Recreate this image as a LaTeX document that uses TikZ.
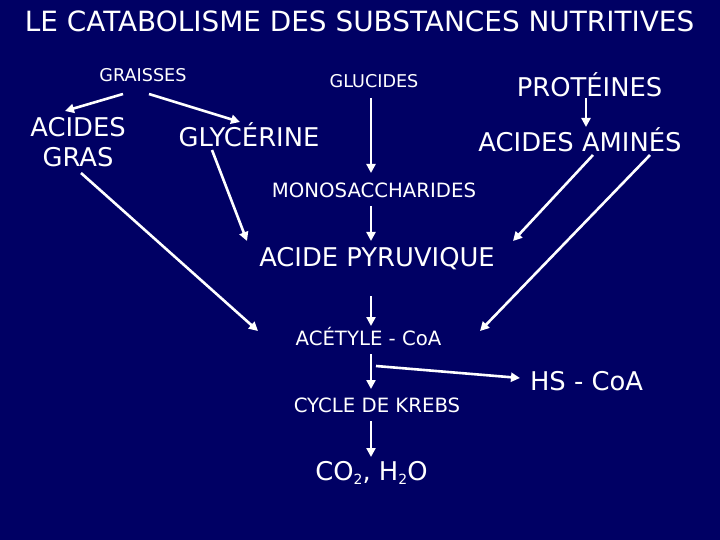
\documentclass[tikz,border=0pt]{standalone}
\usepackage{fontspec}
\setmainfont{DejaVu Sans}
\usetikzlibrary{arrows.meta}
\definecolor{navy}{RGB}{0,0,100}
\newcommand{\mysub}[1]{\raisebox{-4.5pt}{\fontsize{14}{16}\selectfont #1}}
\tikzset{
  big/.style={text=white,font=\fontsize{25.8}{31}\selectfont,inner sep=0pt,anchor=base},
  mid/.style={text=white,font=\fontsize{19.7}{24}\selectfont,inner sep=0pt,anchor=base},
  small/.style={text=white,font=\fontsize{17.6}{21}\selectfont,inner sep=0pt,anchor=base},
  titlestyle/.style={text=white,font=\fontsize{27.9}{33}\selectfont,inner sep=0pt,anchor=base},
  arr/.style={draw=white,line width=2.6pt,-{Triangle[length=9pt,width=9pt]}}
}
\begin{document}
\begin{tikzpicture}[x=1pt,y=-1pt]
\fill[navy] (0,0) rectangle (720,540);
\useasboundingbox (0,0) rectangle (720,540);

\node[titlestyle] (title) at (359.5,32) {LE CATABOLISME DES SUBSTANCES NUTRITIVES};

\node[small] (graisses) at (143,82) {GRAISSES};
\node[small] (glucides) at (374,88) {GLUCIDES};
\node[big] (proteines) at (589.5,96.5) {PROTÉINES};
\node[big,align=center,anchor=center] (acgras) at (78,142) {ACIDES\\[-1pt]GRAS};
\node[big] (glycerine) at (249,147) {GLYCÉRINE};
\node[big] (amines) at (580,151.5) {ACIDES AMINÉS};
\node[mid] (mono) at (374,198) {MONOSACCHARIDES};
\node[big] (pyruv) at (377,266) {ACIDE PYRUVIQUE};
\node[mid] (acetyl) at (368.5,345) {ACÉTYLE - CoA};
\node[big] (hscoa) at (586.5,390) {HS - CoA};
\node[mid] (krebs) at (377,412.5) {CYCLE DE KREBS};
\node[big] (co2) at (371.5,480) {CO\mysub{2}, H\mysub{2}O};

% connector end points
\coordinate (g1) at (123,94);   \coordinate (ag1) at (65,111);
\coordinate (g2) at (149,94);   \coordinate (gl1) at (240,122);
\coordinate (ag2) at (81,173);  \coordinate (ac1) at (258,331);
\coordinate (gl2) at (212,150); \coordinate (py1) at (247,241);
\coordinate (gu1) at (371,98);  \coordinate (mo1) at (371,173);
\coordinate (mo2) at (371,206); \coordinate (py2) at (371,241);
\coordinate (pr1) at (586,98);  \coordinate (am1) at (586,127);
\coordinate (am2) at (593,155); \coordinate (py3) at (513,241);
\coordinate (am3) at (650,155); \coordinate (ac2) at (480,331);
\coordinate (py4) at (371,296); \coordinate (ac3) at (371,326);
\coordinate (ac4) at (371,354); \coordinate (kr1) at (371,389);
\coordinate (br) at (376,366);  \coordinate (hs1) at (520,378);
\coordinate (kr2) at (371,421); \coordinate (co1) at (371,457);

\draw[arr] (g1) -- (ag1);
\draw[arr] (g2) -- (gl1);
\draw[arr] (ag2) -- (ac1);
\draw[arr] (gl2) -- (py1);
\draw[arr] (gu1) -- (mo1);
\draw[arr] (mo2) -- (py2);
\draw[arr] (pr1) -- (am1);
\draw[arr] (am2) -- (py3);
\draw[arr] (am3) -- (ac2);
\draw[arr] (py4) -- (ac3);
\draw[arr] (ac4) -- (kr1);
\draw[arr] (br) -- (hs1);
\draw[arr] (kr2) -- (co1);
\end{tikzpicture}
\end{document}
